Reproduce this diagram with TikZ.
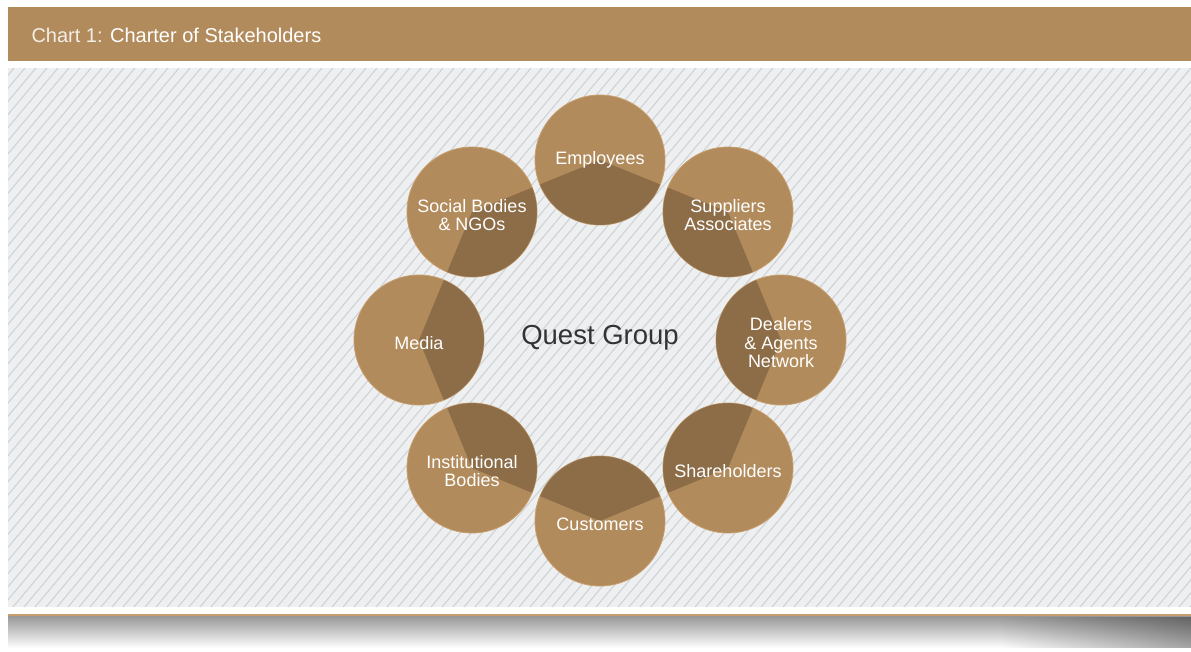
\documentclass[tikz,border=0pt]{standalone}
\usepackage{fontspec}
\setmainfont{Liberation Sans}
\usetikzlibrary{fadings}
\definecolor{kraft}{RGB}{178,139,92}
\definecolor{kraftedge}{RGB}{200,158,108}
\definecolor{panel}{RGB}{237,239,240}
\definecolor{stripe}{RGB}{208,211,214}
\tikzfading[name=darkright, left color=transparent!100, right color=transparent!0]

\begin{document}
\begin{tikzpicture}[x=1pt,y=-1pt,
    disc/.style={circle,fill=kraft,draw=kraftedge,line width=0.8pt,minimum size=130pt,inner sep=0pt},
    disctext/.style={text=white,align=center,yshift=-3pt,font=\fontsize{18}{18.5}\selectfont}]
    \useasboundingbox (0,0) rectangle (1191,651);
    \fill[kraft] (8,7) rectangle (1191,61);
    \node[anchor=west,text=white,font=\fontsize{20}{24}\selectfont] (title) at (28,35)
        {\textcolor{white!85!kraft}{Chart 1:} Charter of Stakeholders};
    \fill[panel] (8,68) rectangle (1191,607);
    \begin{scope}
        \clip (8,68) rectangle (1191,607);
        \foreach \x in {-460,-449,...,1200}
            \draw[stripe,line width=1.1pt] (\x,607) -- ++(452,-539);
    \end{scope}
    \coordinate (E) at (600,160);
    \coordinate (S) at (728,212);
    \coordinate (D) at (781,340);
    \coordinate (H) at (728,468);
    \coordinate (C) at (600,521);
    \coordinate (I) at (472,468);
    \coordinate (M) at (419,340);
    \coordinate (N) at (472,212);
    \coordinate (Q) at (600,338);
    \foreach \p in {E,S,D,H,C,I,M,N}
        \node[disc] (\p disc) at (\p) {};
    \begin{scope}
        \clip (E) circle (65) (S) circle (65) (D) circle (65) (H) circle (65)
            (C) circle (65) (I) circle (65) (M) circle (65) (N) circle (65);
        \fill[black,opacity=.21] (E) -- (S) -- (D) -- (H) -- (C) -- (I) -- (M) -- (N) -- cycle;
    \end{scope}
    \node[disctext,yshift=3pt] (Etext) at (E) {Employees};
    \node[disctext] (Stext) at (S) {Suppliers\\Associates};
    \node[disctext] (Dtext) at (D) {Dealers\\\& Agents\\Network};
    \node[disctext] (Htext) at (H) {Shareholders};
    \node[disctext] (Ctext) at (C) {Customers};
    \node[disctext] (Itext) at (I) {Institutional\\Bodies};
    \node[disctext] (Mtext) at (M) {Media};
    \node[disctext] (Ntext) at (N) {Social Bodies\\\& NGOs};
    \node[text=black!80,font=\fontsize{27.5}{30}\selectfont] (quest) at (Q) {Quest Group};
    \fill[kraftedge] (8,614) rectangle (1191,616.5);
    \shade[top color=black!40,bottom color=white] (8,616.5) rectangle (1191,648);
    \fill[black,opacity=.35,path fading=darkright] (1000,616.5) rectangle (1191,648);
\end{tikzpicture}
\end{document}
